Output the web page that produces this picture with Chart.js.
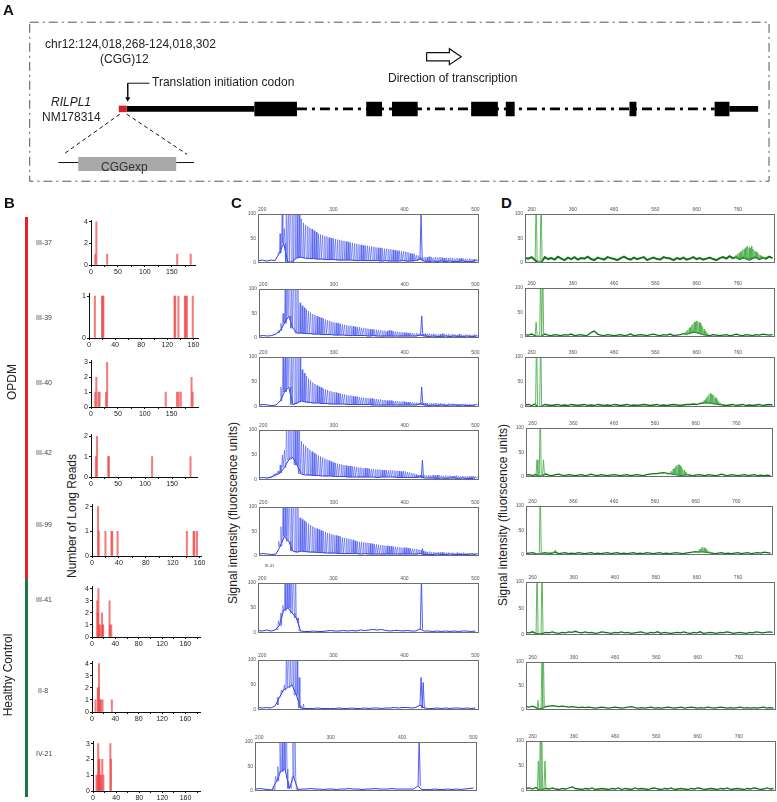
<!DOCTYPE html>
<html>
<head>
<meta charset="utf-8">
<title>RILPL1 CGG expansion</title>
<script src="https://cdn.jsdelivr.net/npm/chart.js@4.4.1/dist/chart.umd.min.js"></script>
<style>
  body { margin: 0; background: #fff; }
  #fig { position: relative; width: 777px; height: 802px; overflow: hidden;
         font-family: Arial, "Liberation Sans", Helvetica, sans-serif; color: #222; }
  #fig canvas { position: absolute; }
  .t { position: absolute; white-space: nowrap; line-height: 1; z-index: 5; }
  .rot { transform: translate(-50%, -50%) rotate(-90deg); }
  .panel { font-weight: bold; font-size: 15px; color: #111; }
  .a12 { font-size: 12px; }
  .smp { font-size: 7px; color: #444; will-change: transform; }
</style>
</head>
<body>
<div id="fig">
  <div class="t panel" style="left:3px;top:2px">A</div>
  <div class="t a12" style="left:45px;top:38px">chr12:124,018,268-124,018,302</div>
  <div class="t a12" style="left:100px;top:53px">(CGG)12</div>
  <div class="t a12" style="left:152px;top:76px">Translation initiation codon</div>
  <div class="t a12" style="left:388px;top:72px">Direction of transcription</div>
  <div class="t a12" style="left:51px;top:96px;font-style:italic">RILPL1</div>
  <div class="t a12" style="left:42px;top:111px">NM178314</div>
  <div class="t a12" style="left:101px;top:161px;color:#333">CGGexp</div>

  <div class="t panel" style="left:4px;top:195px">B</div>
  <div class="t panel" style="left:231px;top:195px">C</div>
  <div class="t panel" style="left:501px;top:195px">D</div>

  <div class="t rot a12" style="left:12px;top:382px">OPDM</div>
  <div class="t rot a12" style="left:8px;top:675px">Healthy Control</div>
  <div class="t rot a12" style="left:72px;top:516px">Number of Long Reads</div>
  <div class="t rot a12" style="left:233px;top:513px">Signal intensity (fluorscence units)</div>
  <div class="t rot a12" style="left:503px;top:515px">Signal intensity (fluorscence units)</div>
  <div class="t smp" style="left:265px;top:564px;font-size:4px">III-41</div>

  <div style="position:absolute;left:25px;top:217px;width:3px;height:362px;background:#e8202a"></div>
  <div style="position:absolute;left:25px;top:579px;width:3px;height:218px;background:#18784a"></div>
</div>
<script>
// ---------- panel A: gene model (diagram units) ----------
const exonStart = [253, 366, 392, 472, 507, 632, 718];
const exonEnd   = [296, 382, 418, 499, 516, 639, 733];
const codingStart = [124, 733];
const codingEnd   = [253, 762];
const cggSite = [116, 124];
const intronSpan = [296, 718];

// ---------- panel B: long-read repeat counts ----------
const bSamples = ['III-37', 'III-39', 'III-40', 'III-42', 'III-99', 'III-41', 'II-8', 'IV-21'];
const bPos = [
  [8, 10, 30, 160, 185],
  [9, 20, 21, 22, 131, 132, 137, 147, 148, 150, 159],
  [8, 10, 14, 16, 28, 30, 139, 160, 163, 167, 187, 189],
  [9, 11, 32, 33, 113, 184],
  [9, 10, 20, 29, 30, 38, 141, 151, 152, 156],
  [9, 10, 11, 12, 14, 17, 18, 19, 30, 31, 33],
  [6, 10, 11, 12, 14, 15, 18, 34],
  [6, 8, 9, 10, 11, 12, 14, 16, 18, 30, 31]
];
const bReads = [
  [1, 4, 1, 1, 1],
  [1, 1, 1, 1, 1, 1, 1, 1, 1, 1, 1],
  [1, 2, 1, 1, 1, 3, 1, 1, 1, 1, 2, 1],
  [1, 2, 1, 1, 1, 1],
  [2, 1, 1, 1, 1, 1, 1, 1, 1, 1],
  [3, 2, 4, 1, 1, 2, 1, 1, 3, 1, 1],
  [1, 2, 2, 4, 1, 1, 1, 1],
  [1, 1, 3, 2, 2, 1, 1, 2, 1, 3, 2]
];
const bXMax = [193, 167, 199, 196, 162, 185, 185, 185];
const bYMax = [4.15, 1.07, 3.15, 2.1, 2.1, 4.2, 4.2, 3.15];
const bXLabels = [
  [0, 50, 100, 150], [0, 40, 80, 120, 160], [0, 50, 100, 150], [0, 50, 100, 150],
  [0, 40, 80, 120, 160], [0, 40, 80, 120, 160], [0, 40, 80, 120, 160], [0, 40, 80, 120, 160]
];
const bYTicks = [[0, 2, 4], [0, 1], [0, 1, 2, 3], [0, 1, 2], [0, 1, 2], [0, 1, 2, 3, 4], [0, 1, 2, 3, 4], [0, 1, 2, 3]];

// ---------- panel C: repeat-primed PCR traces (blue) ----------
const cXTicks = [200, 300, 400, 500];
const traceYTicks = [0, 50, 100];
const cStart = [222, 222, 225, 206, 222, 220, 222, 217];   // first stutter peak, step 3 bp
const cComb = [
  [20,60,110,70,130,120,150,160,140,120, 100,90,82,78,75,72,69,66,63,60, 58,57,55,54,52,51,50,49,48,47,
   46,45,44,43,42,41,40,39,38,37, 36,36,35,34,34,33,32,31,31,30, 29,29,28,28,27,26,25,25,24,24,
   23,22,20,19,18,16,15,12,11,12, 12,13,12,11,12,11,12,11,10,11, 10,11,10,9,10,9,10,9,9,8, 9,8,8,7],
  [10,30,50,110,130,150,150,140,130,110, 72,66,62,58,55,52,49,47,45,43, 41,40,38,36,35,33,32,31,30,29,
   28,27,26,25,25,24,23,22,22,21, 20,20,19,18,18,17,17,16,16,15, 15,14,16,15,14,13,13,12,12,11,
   11,10,11,10,9,10,9,8,8,9, 8,9,8,9,8,7,8,9,8,7, 8,7,8,7,6,8,7,6,7,6, 7,6,7,6],
  [40,110,150,130,160,140,150,130,120,100, 75,68,62,57,53,49,46,43,41,39, 37,35,34,32,31,30,29,28,27,26,
   25,24,23,23,22,21,21,20,19,19, 18,18,17,17,16,16,15,15,14,14, 13,13,13,12,12,12,11,11,11,10,
   10,10,9,9,9,8,9,8,8,8, 7,8,7,8,7,7,6,7,6,7, 6,7,6,6,5,6,5,6,5,6, 5,5,6],
  [4,6,8,12,14,18,30,50,60,120, 150,140,160,150,130,110,78,72,68,64, 60,57,54,51,49,47,45,43,41,39,
   37,35,34,33,32,31,30,29,28,28, 27,27,26,25,25,24,24,23,23,22, 22,21,21,21,20,20,20,19,20,19,
   19,18,18,17,18,17,16,15,14,13, 11,10,10,9,10,9,10,9,10,9, 10,9,9,8,9,8,9,8,8,9, 8,7,8,7,8,7,7,8,7,6],
  [30,60,110,130,120,150,140,150,130,110, 78,75,72,69,66,63,60,58,56,54, 52,51,49,47,46,44,43,42,41,40,
   38,37,36,35,34,33,31,30,29,29, 28,27,27,26,25,24,24,23,22,22, 21,21,20,20,19,19,18,18,17,17,
   17,16,16,15,14,14,13,12,10,9, 8,9,8,8,7,8,7,8,7,7, 7,6,7,6,7,6,6,7,6,6, 5,6,5,6],
  [8,25,40,55,110,120,140,150,130,120,20,5],
  [10,25,35,50,110,130,110,150,130,150,65,8,12],
  [2,10,30,50,110,130,120,140,20,10,130,110,5]
];
const cSpikeX = [[423.5], [424], [424], [425], [425], [424], [423.5, 426.5], [424]];
const cSpikeH = [[98], [45], [40], [40], [15], [110], [65, 55], [110]];
const cBaseStart = 194;   // baseline sampled every 6 bp
const cBase = [
  [5,6,4,6,5,20,40,2,2,10,12,10,9,9,8,8,7,7,7,6,6,6,6,5,5,5,5,5,5,4,5,4,4,4,5,4,4,5,8,4,3,4,3,4,3,4,3,3,4,3,3,4],
  [4,5,4,5,8,15,30,45,20,10,10,9,9,8,8,7,7,7,6,6,6,5,5,5,5,5,4,5,4,4,4,4,4,4,4,4,4,4,6,4,3,4,3,3,4,3,4,3,3,4,3,3],
  [4,5,4,3,4,12,30,40,5,8,12,10,9,8,8,7,7,6,6,6,6,5,5,5,5,5,5,4,4,4,4,4,4,4,4,4,4,4,6,4,3,4,3,4,3,4,4,3,4,3,3,4],
  [4,5,4,6,10,14,25,40,45,30,12,10,10,9,9,8,8,8,7,7,7,6,6,6,6,6,6,6,5,6,6,6,6,5,5,5,5,5,6,4,4,4,3,4,3,4,4,3,4,3,3,4],
  [4,5,4,3,4,20,40,30,10,8,10,9,8,8,7,7,6,6,6,5,5,5,5,5,4,5,4,4,4,4,4,4,4,4,4,4,4,4,5,3,3,3,4,3,3,4,3,3,3,3,4,3],
  [5,4,6,4,6,15,45,50,40,30,4,3,3,4,3,3,4,5,4,4,5,4,5,4,6,5,6,7,6,7,5,4,5,5,4,5,4,4,8,4,4,3,4,3,4,3,4,3,4,4,3,4],
  [5,4,5,4,8,25,40,45,50,30,4,3,3,3,4,3,3,3,3,4,3,3,4,3,3,4,3,4,4,3,4,4,5,4,5,5,4,5,10,4,3,3,4,3,4,3,4,4,3,4,3,4],
  [4,5,4,3,2,20,40,45,5,30,3,4,4,5,4,4,3,4,4,3,4,4,5,4,4,3,4,4,5,4,4,4,5,4,4,4,4,4,10,3,3,3,4,3,3,4,3,4,3,4,5,6]
];

// ---------- panel D: flanking PCR traces (green) ----------
const dXTicks = [260, 360, 460, 560, 660, 760];
const dBaseStart = 244;   // baseline sampled every 8 bp
const dBase = [
  [11,9,12,6,0,2,12,8,10,7, 13,9,6,11,8,12,7,10,9,13, 8,6,11,9,7,12,10,8,6,10, 13,9,7,11,8,10,12,6,9,11,
   8,7,12,10,9,6,10,8,11,7, 9,12,8,10,7,9,11,8,6,10, 12,9,14,10,12,8,11,9,7,10, 12,8,11,9,13,10],
  [5,4,6,3,0,2,6,4,3,5, 4,3,5,4,6,3,4,5,3,4, 9,12,6,4,3,5,4,3,4,5, 3,4,6,3,4,5,4,3,5,6,
   4,3,5,4,6,3,4,5,7,6, 8,10,9,7,5,4,3,5,4,3, 4,5,3,4,6,4,3,5,4,3, 5,4,6,5,4,5],
  [4,5,3,6,0,2,5,4,3,4, 5,3,4,3,5,4,3,4,5,3, 4,3,5,4,3,4,3,5,4,3, 4,5,3,4,3,4,5,4,3,4,
   5,3,4,3,4,5,4,3,4,5, 5,6,5,7,8,9,8,7,6,5, 4,3,4,5,3,4,5,3,4,3, 4,5,3,4,5,4],
  [4,5,3,5,2,3,6,4,3,5, 6,4,3,5,4,3,4,5,3,4, 6,4,3,5,4,3,4,5,4,3, 4,5,3,4,5,4,3,5,6,7,
   7,8,9,8,7,6,5,4,3,5, 4,3,4,5,4,3,5,4,3,4, 6,4,3,5,4,3,4,5,3,4, 5,3,4,3,4,3],
  [3,4,5,3,2,4,5,3,4,6, 3,4,5,3,4,3,5,4,3,4, 5,3,4,3,4,5,3,4,5,3, 4,3,4,5,3,4,3,5,4,3,
   4,5,3,4,3,4,5,4,3,4, 5,6,7,6,7,6,5,4,3,4, 5,3,4,3,4,5,3,4,5,3, 4,5,4,6,5,4],
  [5,4,6,3,2,3,5,4,6,4, 3,5,4,6,5,7,5,4,6,4, 5,3,4,6,5,4,3,5,4,6, 4,5,3,4,5,6,4,3,5,4,
   6,3,5,4,3,4,5,4,6,4, 3,5,4,6,3,4,5,4,3,5, 4,6,5,3,4,5,4,3,5,4, 6,5,4,5,6,5],
  [7,6,8,5,2,4,7,8,9,8, 7,8,7,6,7,6,5,6,5,6, 5,4,5,6,5,4,5,6,5,4, 5,6,7,5,4,5,4,5,6,4,
   5,4,5,6,5,4,5,6,4,5, 6,5,4,5,4,6,5,4,5,6, 5,4,5,4,5,6,4,5,4,5, 4,5,6,4,5,4],
  [5,6,4,7,2,3,5,4,6,4, 3,5,4,6,8,5,4,3,5,4, 6,3,4,5,4,3,5,4,6,3, 5,4,3,6,4,5,4,3,5,6,
   4,3,5,4,6,3,4,5,4,3, 5,4,6,5,3,4,5,4,3,5, 4,6,3,4,5,4,3,5,4,6, 5,3,4,6,4,5]
];
const dSpikeX = [[271, 283], [271, 282, 287], [272, 282], [271, 279, 287], [279, 316], [271, 283], [273, 283, 286], [274, 279, 282, 290]];
const dSpikeH = [[140, 140], [30, 140, 140], [140, 140], [35, 140, 35], [140, 10], [140, 140], [20, 140, 130], [60, 140, 140, 60]];
const dHumpStart = [745, 627, 669, 590, 660, 0, 0, 0];   // step 3 bp
const dHump = [
  [8,10,12,15,16,19,20,23,24,27,28,31,33,35,32,30,34,28,27,24,22,21,18,16,14,12,10,9],
  [6,8,10,13,14,18,20,24,26,30,31,33,32,30,28,24,21,16,12,9,7],
  [6,8,10,13,15,19,21,25,27,26,24,23,19,17,13,11,8,6,5],
  [5,6,8,11,12,16,18,22,23,25,25,22,20,16,14,10,8,6,5,5,4],
  [5,6,8,11,12,15,16,15,13,12,9,7,6,5],
  [], [], []
];

// ---------- layout (pixel boxes of the plot areas) ----------
const bBoxes = [[90.7,220,195,266],[89.3,293,198,339],[90.7,360,198,408],[90.7,434,196.7,478.3],
                [92.3,504,201.7,556.7],[92.3,586,200,638.3],[92.3,661,200,713.3],[93.3,741,200,792.3]];
const cBoxes = [[258.3,214.3,479.3,266.3],[259.3,289,479.3,340.7],[259,356.7,479,410],[259,430,479,482.7],
                [259,506.7,479,559],[258.3,583.3,479,636],[258.3,660,479,713.3],[255,742.3,477.3,794]];
const dBoxes = [[525,214.3,775,266.3],[525,287.7,775,340],[525,356.7,775,409.3],[526,427.7,773.3,480],
                [526,506,773.3,558.3],[526,581.7,775,637.3],[526,662,776,713.3],[526,740.7,776,794]];
const sampleY = [242, 317, 382, 452, 524, 599, 690, 753];

Chart.defaults.font.family = 'Arial, "Liberation Sans", Helvetica, sans-serif';
Chart.defaults.color = '#222';
Chart.defaults.animation = false;

const fig = document.getElementById('fig');

function mount(box, pad) {
  const c = document.createElement('canvas');
  const w = Math.round(box[2] - box[0] + pad[0] + pad[2]);
  const h = Math.round(box[3] - box[1] + pad[1] + pad[3]);
  c.width = w; c.height = h;
  c.style.left = (box[0] - pad[0]) + 'px';
  c.style.top = (box[1] - pad[1]) + 'px';
  fig.appendChild(c);
  return c;
}

// line the canvas up so its chart area sits on the box
function snap(chart, box) {
  const a = chart.chartArea;
  chart.canvas.style.left = (box[0] - a.left) + 'px';
  chart.canvas.style.top = (box[1] - a.top) + 'px';
}

const frame = {
  id: 'frame',
  afterDatasetsDraw(chart, args, opts) {
    const { ctx, chartArea: a } = chart;
    ctx.save();
    ctx.strokeStyle = opts.color || '#777';
    ctx.lineWidth = 1;
    ctx.strokeRect(Math.round(a.left) + 0.5, Math.round(a.top) + 0.5,
                   Math.round(a.right - a.left) - 1, Math.round(a.bottom - a.top) - 1);
    ctx.restore();
  }
};

const noUi = { legend: { display: false }, tooltip: { enabled: false } };

// ---------- panel A ----------
function segs(starts, ends, y) {
  const d = [];
  starts.forEach((s, i) => d.push({ x: s, y }, { x: ends[i], y }, { x: ends[i], y: null }));
  return d;
}
const geneY = 109.5;
const lineDs = (data, color, width, extra) => Object.assign({
  data, borderColor: color, borderWidth: width, showLine: true, pointRadius: 0,
  fill: false, borderCapStyle: 'butt', spanGaps: false
}, extra || {});

const aCanvas = mount([0, 0, 777, 190], [0, 0, 0, 0]);
new Chart(aCanvas, {
  type: 'scatter',
  data: {
    datasets: [
      lineDs(segs(exonStart, exonEnd, geneY), '#000', 14.5),
      lineDs(segs([cggSite[0]], [cggSite[1]], geneY), '#d62028', 6.5),
      lineDs(segs(codingStart, codingEnd, geneY), '#000', 5.6),
      lineDs(segs([intronSpan[0]], [intronSpan[1]], geneY), '#000', 2.6, { borderDash: [10, 5, 3, 5] }),
      lineDs([{ x: 26, y: 19 }, { x: 773, y: 19 }, { x: 773, y: 185 }, { x: 26, y: 185 }, { x: 26, y: 19 }],
             '#555', 1, { borderDash: [9, 4, 2, 4] }),
      lineDs([{ x: 117, y: 115 }, { x: 60, y: 157 }, { x: 60, y: null }, { x: 124, y: 115 }, { x: 185, y: 157 }],
             '#111', 1, { borderDash: [4, 3] }),
      lineDs(segs([55, 174], [75, 192], 165.5), '#111', 1),
      lineDs(segs([75], [174], 167), '#a9a9a9', 14),
      lineDs([{ x: 147, y: 82.7 }, { x: 125, y: 82.7 }, { x: 125, y: 98 }], '#111', 1),
      { data: [{ x: 125, y: 99 }], pointStyle: 'triangle', rotation: 180, pointRadius: 3,
        backgroundColor: '#111', borderColor: '#111', borderWidth: 0, showLine: false },
      lineDs([{ x: 427, y: 50.7 }, { x: 450, y: 50.7 }, { x: 450, y: 46.7 }, { x: 462, y: 55 },
              { x: 450, y: 63.3 }, { x: 450, y: 59.3 }, { x: 427, y: 59.3 }, { x: 427, y: 50.7 }],
             '#111', 1.2, { borderJoinStyle: 'miter' })
    ]
  },
  options: {
    responsive: false, animation: false, layout: { padding: 0 },
    plugins: noUi,
    scales: {
      x: { type: 'linear', min: 0, max: 777, display: false },
      y: { type: 'linear', min: 0, max: 190, reverse: true, display: false }
    }
  }
});

// ---------- panel B ----------
bSamples.forEach((s, i) => {
  const d = document.createElement('div');
  d.className = 't smp';
  d.textContent = s;
  d.style.left = (s === 'II-8' ? 38 : 36) + 'px';
  d.style.top = (sampleY[i] - 3.5) + 'px';
  fig.appendChild(d);
});

bSamples.forEach((name, i) => {
  const box = bBoxes[i];
  const labels = bXLabels[i];
  const half = (labels[1] - labels[0]) / 2;
  const xt = [];
  for (let v = 0; v <= bXMax[i]; v += half) xt.push(v);
  const cv = mount(box, [12, 4, 8, 10]);
  const ch = new Chart(cv, {
    type: 'bar',
    data: {
      datasets: [{
        label: name,
        data: bPos[i].map((x, k) => ({ x, y: bReads[i][k] })),
        backgroundColor: 'rgba(236, 70, 70, 0.7)',
        borderWidth: 0, barThickness: 1.4
      }]
    },
    options: {
      responsive: false, animation: false,
      layout: { padding: { top: 4, right: 8, left: 0, bottom: 0 } },
      plugins: noUi,
      scales: {
        x: {
          type: 'linear', min: 0, max: bXMax[i], offset: false,
          afterBuildTicks: s => { s.ticks = xt.map(v => ({ value: v })); },
          afterFit: s => { s.height = 10; },
          ticks: { font: { size: 7 }, color: '#222', padding: 1, maxRotation: 0, autoSkip: false,
                   callback: v => labels.includes(v) ? v : '' },
          grid: { display: true, drawOnChartArea: false, tickLength: 2, color: '#111', offset: false },
          border: { display: true, color: '#111', width: 1 }
        },
        y: {
          min: 0, max: bYMax[i],
          afterBuildTicks: s => { s.ticks = bYTicks[i].map(v => ({ value: v })); },
          afterFit: s => { s.width = 12; },
          ticks: { font: { size: 7 }, color: '#222', padding: 1 },
          grid: { display: true, drawOnChartArea: false, tickLength: 2, color: '#111' },
          border: { display: true, color: '#111', width: 1 }
        }
      }
    }
  });
  snap(ch, box);
});

// ---------- panels C and D ----------
function baseAt(base, start, step, x) {
  const k = Math.min(base.length - 1, Math.max(0, Math.round((x - start) / step)));
  return base[k];
}
function peaks(xs, hs, half, base, bStart, bStep) {
  const pts = [];
  xs.forEach((x, k) => {
    const b = baseAt(base, bStart, bStep, x);
    pts.push({ x: x - half, y: b }, { x, y: hs[k] }, { x: x + half, y: b });
  });
  return pts;
}
function baseline(base, start, step) {
  return base.map((v, k) => ({ x: start + k * step, y: v }));
}

function traceChart(box, datasets, xMin, xMax, xTicks) {
  const cv = mount(box, [11, 7, 6, 2]);
  const ch = new Chart(cv, {
    type: 'line',
    data: { datasets },
    options: {
      responsive: false, animation: false, parsing: false, normalized: true,
      layout: { padding: { top: 0, right: 6, left: 0, bottom: 2 } },
      plugins: Object.assign({ frame: { color: '#6d6d6d' } }, noUi),
      elements: { point: { radius: 0 }, line: { tension: 0, borderCapStyle: 'butt' } },
      scales: {
        x: {
          type: 'linear', position: 'top', min: xMin, max: xMax,
          afterBuildTicks: s => { s.ticks = xTicks.map(v => ({ value: v })); },
          afterFit: s => { s.height = 7; },
          ticks: { font: { size: 5 }, color: '#555', padding: 1, maxRotation: 0, autoSkip: false },
          grid: { display: false, drawTicks: false, tickLength: 0 }, border: { display: false }
        },
        y: {
          min: 0, max: 100,
          afterBuildTicks: s => { s.ticks = traceYTicks.map(v => ({ value: v })); },
          afterFit: s => { s.width = 11; },
          ticks: { font: { size: 5 }, color: '#555', padding: 2 },
          grid: { display: false, drawTicks: false, tickLength: 0 }, border: { display: false }
        }
      }
    },
    plugins: [frame]
  });
  snap(ch, box);
}

cComb.forEach((heights, i) => {
  const xs = heights.map((_, k) => cStart[i] + k * 3);
  traceChart(cBoxes[i], [
    { data: peaks(xs, heights, 1, cBase[i], cBaseStart, 6), borderColor: 'rgba(70, 85, 240, 0.85)', borderWidth: 0.7 },
    { data: peaks(cSpikeX[i], cSpikeH[i], 1.6, cBase[i], cBaseStart, 6), borderColor: 'rgb(60, 75, 240)', borderWidth: 0.9 },
    { data: baseline(cBase[i], cBaseStart, 6), borderColor: 'rgb(45, 60, 225)', borderWidth: 1 }
  ], 194, 505, cXTicks);
});

dBase.forEach((base, i) => {
  const xs = dHump[i].map((_, k) => dHumpStart[i] + k * 3);
  traceChart(dBoxes[i], [
    { data: peaks(xs, dHump[i], 1.2, base, dBaseStart, 8), borderColor: 'rgba(70, 170, 70, 0.85)', borderWidth: 0.7 },
    { data: peaks(dSpikeX[i], dSpikeH[i], 2.4, base, dBaseStart, 8), borderColor: 'rgb(80, 175, 80)', borderWidth: 0.9 },
    { data: baseline(base, dBaseStart, 8), borderColor: 'rgb(15, 115, 25)', borderWidth: i === 0 ? 2 : 1.3 }
  ], 244, 850, dXTicks);
});
</script>
</body>
</html>
